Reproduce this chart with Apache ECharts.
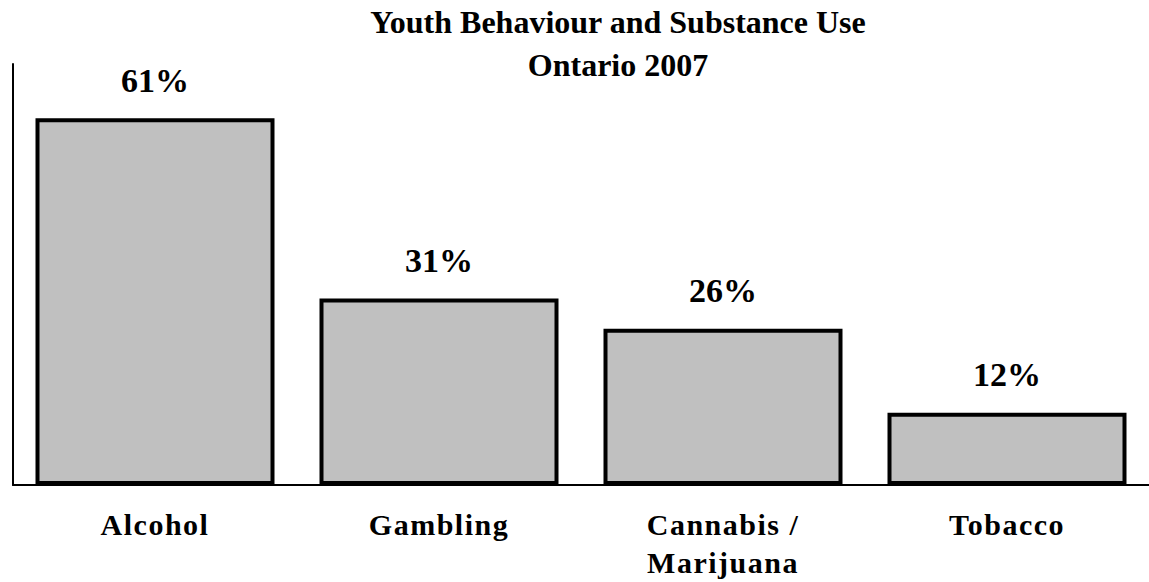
<!DOCTYPE html>
<html>
<head>
<meta charset="utf-8">
<script src="https://cdn.jsdelivr.net/npm/echarts@6/dist/echarts.min.js"></script>
<style>
html,body{margin:0;padding:0;background:#fff;}
#chart{width:1149px;height:582px;}
</style>
</head>
<body>
<div id="chart"></div>
<script>
const titleLines = ['Youth Behaviour and Substance Use', 'Ontario 2007'];
const categories = ['Alcohol', 'Gambling', 'Cannabis /\nMarijuana', 'Tobacco'];
const values = [61, 31, 26, 12];

const chart = echarts.init(document.getElementById('chart'), null, { renderer: 'svg' });
const font = '"Liberation Serif", "Times New Roman", serif';
chart.setOption({
  animation: false,
  backgroundColor: '#ffffff',
  title: {
    text: titleLines.join('\n'),
    left: 618,
    top: 0,
    padding: 0,
    textAlign: 'center',
    textStyle: { fontFamily: font, fontWeight: 'bold', fontSize: 32, lineHeight: 43, color: '#000' }
  },
  grid: { left: 13, right: 0, top: 64, bottom: 97, containLabel: false },
  xAxis: {
    type: 'category',
    data: categories,
    axisLine: { show: true, lineStyle: { color: '#000', width: 2 } },
    axisTick: { show: false },
    axisLabel: { fontFamily: font, fontWeight: 'bold', fontSize: 30, lineHeight: 38, color: '#000', margin: 20, align: 'center' }
  },
  yAxis: {
    type: 'value',
    min: 0, max: 70,
    splitLine: { show: false },
    axisLabel: { show: false },
    axisTick: { show: false },
    axisLine: { show: true, lineStyle: { color: '#000', width: 2 } }
  },
  series: [{
    type: 'bar',
    data: values,
    barWidth: 239,
    itemStyle: { color: '#c0c0c0', borderColor: '#000', borderWidth: 4 },
    label: {
      show: true, position: 'top', distance: 21,
      formatter: '{c}%',
      fontFamily: font, fontWeight: 'bold', fontSize: 34, color: '#000'
    }
  }]
});
// widen the letter spacing of the category labels, as in the reference
const catWords = new Set(categories.join('\n').split('\n'));
document.querySelectorAll('#chart text').forEach(function (t) {
  if (catWords.has(t.textContent.trim())) {
    t.setAttribute('letter-spacing', '1.5');
  }
});
</script>
</body>
</html>
